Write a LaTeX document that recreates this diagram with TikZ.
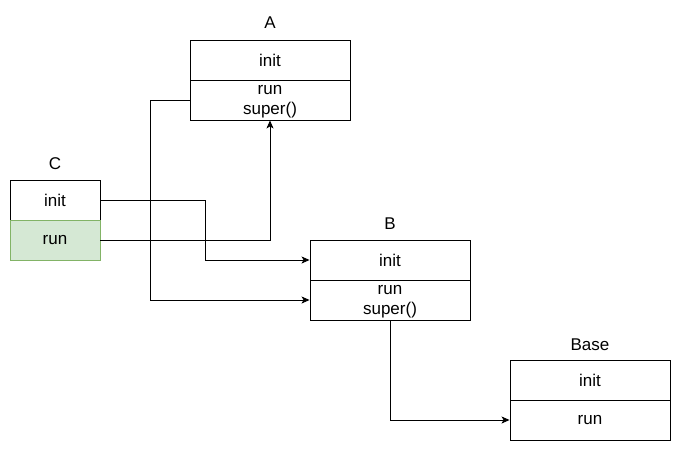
\documentclass[tikz,border=0pt]{standalone}
\usepackage{fontspec}
\setmainfont{Liberation Sans}
\usetikzlibrary{arrows.meta}
\definecolor{gfill}{HTML}{D5E8D4}
\definecolor{gline}{HTML}{82B366}
\begin{document}
\begin{tikzpicture}[x=1pt,y=-1pt,
  cell/.style={draw=black,line width=0.9pt,minimum width=160pt,minimum height=40pt,inner sep=0pt,font=\fontsize{17}{20}\selectfont,align=center},
  ccell/.style={cell,minimum width=90pt},
  lbl/.style={font=\fontsize{17}{19}\selectfont,inner sep=0pt},
  conn/.style={draw=black,line width=0.9pt,-{Stealth[length=8pt,width=7pt,inset=2pt]}}]
\useasboundingbox (0,0) rectangle (681,451);
% A
\node[lbl] (Alab) at (270,23) {A};
\node[cell] (Ainit) at (270,60) {init};
\node[cell] (Arun) at (270,100) {\strut run\\\strut super()};
% C
\node[lbl] (Clab) at (55,164) {C};
\node[ccell] (Cinit) at (55,200) {init};
\node[ccell,fill=gfill,draw=gline] (Crun) at (55,240) {run};
% B
\node[lbl] (Blab) at (390,224) {B};
\node[cell] (Binit) at (390,260) {init};
\node[cell] (Brun) at (390,300) {\strut run\\\strut super()};
% Base
\node[lbl] (Baselab) at (590,345) {Base};
\node[cell] (Baseinit) at (590,380) {init};
\node[cell] (Baserun) at (590,420) {run};
% connectors
\coordinate (j1) at (205,200);
\coordinate (j2) at (150,100);
\draw[conn] (Cinit.east) -- (j1) |- (Binit.west);
\draw[conn] (Crun.east) -| (Arun.south);
\draw[conn] (Arun.west) -- (j2) |- (Brun.west);
\draw[conn] (Brun.south) |- (Baserun.west);
\end{tikzpicture}
\end{document}
